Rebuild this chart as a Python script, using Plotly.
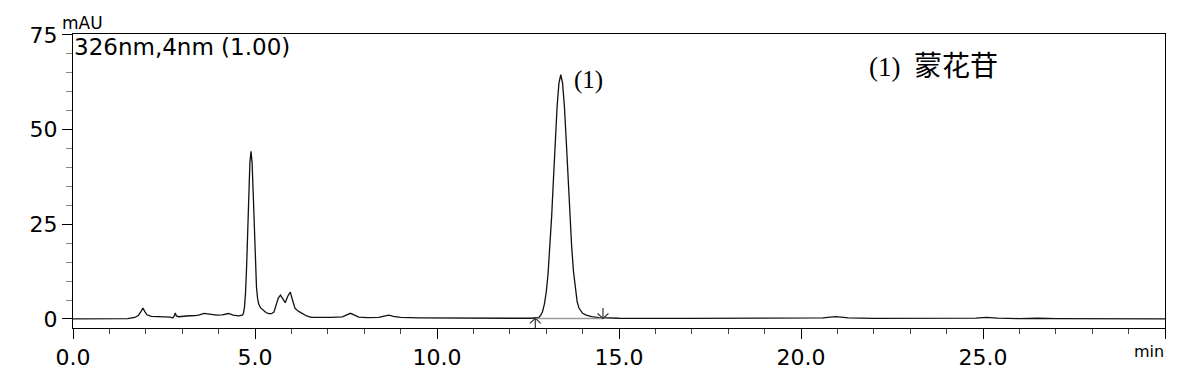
import plotly.graph_objects as go

# ---- data (time in min, signal in mAU) ----
time_min = [
    0.0, 1.0, 1.5, 1.7, 1.8, 1.87, 1.92, 1.97, 2.03, 2.15, 2.35, 2.55, 2.68, 2.74,
    2.78, 2.81, 2.84, 2.9, 3.05, 3.2, 3.35, 3.45, 3.6, 3.75, 3.95, 4.1, 4.27, 4.4,
    4.55, 4.65, 4.68, 4.71, 4.74, 4.77, 4.80, 4.83, 4.86, 4.89, 4.92, 4.95, 4.98,
    5.01, 5.04, 5.07, 5.10, 5.15, 5.22, 5.30, 5.38, 5.45, 5.52, 5.58, 5.64, 5.70,
    5.76, 5.83, 5.90, 5.97, 6.03, 6.10, 6.20, 6.30, 6.42, 6.55, 6.8, 7.1, 7.4,
    7.52, 7.62, 7.72, 7.85, 8.1, 8.4, 8.58, 8.68, 8.8, 9.0, 9.5, 10.0, 11.0, 12.0,
    12.6, 12.75, 12.80, 12.85, 12.90, 12.95, 13.00, 13.05, 13.10, 13.15, 13.20,
    13.25, 13.30, 13.35, 13.40, 13.45, 13.50, 13.55, 13.60, 13.65, 13.70, 13.75,
    13.80, 13.85, 13.90, 13.95, 14.00, 14.10, 14.25, 14.45, 14.7, 15.0, 17.0,
    20.0, 20.6, 20.95, 21.3, 22.0, 24.0, 24.8, 25.1, 25.4, 26.0, 26.5, 27.0, 30.0,
]
signal_mau = [
    0.05, 0.05, 0.1, 0.4, 1.0, 2.0, 2.9, 2.0, 1.1, 0.7, 0.55, 0.6, 0.5, 0.25,
    0.8, 1.6, 0.8, 0.6, 0.8, 0.85, 0.9, 1.0, 1.5, 1.3, 1.0, 1.1, 1.45, 1.0,
    0.8, 1.0, 1.4, 3.0, 7.0, 14.0, 23.5, 33.4, 41.3, 44.3, 41.3, 33.4, 23.5,
    14.5, 8.5, 5.5, 4.0, 3.0, 2.3, 1.7, 1.4, 1.4, 1.8, 3.5, 5.5, 6.3,
    5.2, 4.3, 6.0, 7.1, 5.0, 2.8, 2.0, 1.5, 0.8, 0.45, 0.4, 0.4, 0.55,
    1.1, 1.5, 1.1, 0.5, 0.35, 0.4, 0.8, 1.0, 0.7, 0.4, 0.3, 0.25, 0.2, 0.2,
    0.2, 0.3, 0.45, 1.0, 2.0, 3.9, 7.0, 11.8, 18.5, 27.1, 37.1,
    47.2, 56.2, 62.3, 64.5, 62.3, 56.2, 47.2, 37.1, 27.5, 19.0, 12.5,
    7.6, 4.6, 2.9, 2.0, 1.5, 1.0, 0.6, 0.35, 0.25, 0.2, 0.15,
    0.15, 0.3, 0.6, 0.3, 0.15, 0.1, 0.25, 0.45, 0.25, 0.1, 0.2, 0.1, 0.05,
]

integration_start = 12.70
integration_end = 14.56
peak_label = "(1)"
peak_time = 13.41
peak_height = 64.5
legend_label = "(1)"
legend_name = "蒙花苷"
channel_text = "326nm,4nm (1.00)"

x_tick_vals = [0, 5, 10, 15, 20, 25, 30]
x_tick_text = ["0.0", "5.0", "10.0", "15.0", "20.0", "25.0", ""]
y_tick_vals = [0, 25, 50, 75]

# ---- figure ----
fig = go.Figure()

fig.add_trace(go.Scatter(
    x=time_min, y=signal_mau, mode="lines",
    line=dict(color="#111111", width=1.3), showlegend=False, hoverinfo="skip",
))

# integration baseline
fig.add_trace(go.Scatter(
    x=[integration_start, integration_end], y=[0.15, 0.15], mode="lines",
    line=dict(color="#9a9a9a", width=1.5), showlegend=False, hoverinfo="skip",
))

# integration markers (up arrow at start, down arrow at end)
head_dx = 0.15
head_dy = 1.3
ax, ay = [], []
s = integration_start
ax += [s, s, None, s - head_dx, s, s + head_dx, None]
ay += [0.15, -2.6, None, 0.15 - head_dy, 0.15, 0.15 - head_dy, None]
e = integration_end
ax += [e, e, None, e - head_dx, e, e + head_dx]
ay += [2.9, 0.15, None, 0.15 + head_dy, 0.15, 0.15 + head_dy]
fig.add_trace(go.Scatter(
    x=ax, y=ay, mode="lines", line=dict(color="#333333", width=1.2),
    showlegend=False, hoverinfo="skip",
))

tick_font = dict(family="DejaVu Sans", size=22, color="#000000")

fig.update_layout(
    width=1199, height=375,
    margin=dict(l=65, r=42, t=26, b=55),
    paper_bgcolor="white", plot_bgcolor="white",
    xaxis=dict(
        range=[0, 30], tickvals=x_tick_vals, ticktext=x_tick_text,
        ticks="outside", ticklen=10, tickwidth=1, tickcolor="#000000",
        showline=True, linecolor="#000000", linewidth=1, mirror=True,
        showgrid=False, zeroline=False, tickfont=tick_font,
        minor=dict(tickmode="linear", tick0=0, dtick=1, ticks="outside",
                   ticklen=5, tickcolor="#444444", showgrid=False),
    ),
    yaxis=dict(
        range=[-2.38, 75.26], tickvals=y_tick_vals,
        ticks="outside", ticklen=10, tickwidth=1, tickcolor="#000000",
        showline=True, linecolor="#000000", linewidth=1, mirror=True,
        showgrid=False, zeroline=False, tickfont=tick_font,
        minor=dict(tickmode="linear", tick0=0, dtick=5, ticks="outside",
                   ticklen=6, tickcolor="#888888", showgrid=False),
    ),
)

fig.add_annotation(
    xref="paper", yref="paper", x=-0.011, y=1.0, xanchor="left", yanchor="bottom",
    text="mAU", showarrow=False, borderpad=0,
    font=dict(family="DejaVu Sans", size=17, color="#000000"), yshift=0,
)
fig.add_annotation(
    xref="paper", yref="paper", x=0.0, y=1.0, xanchor="left", yanchor="top",
    text=channel_text, showarrow=False, borderpad=0,
    font=dict(family="DejaVu Sans", size=23, color="#000000"), yshift=1,
)
fig.add_annotation(
    x=peak_time, y=peak_height, xanchor="left", yanchor="middle",
    text=peak_label, showarrow=False, xshift=11, yshift=-5,
    font=dict(family="Liberation Serif", size=25, color="#000000"),
)
fig.add_annotation(
    xref="paper", yref="paper", x=0.727, y=0.891, xanchor="left", yanchor="middle",
    text=legend_label + "  <span style='font-size:28px'>" + legend_name + "</span>",
    showarrow=False,
    font=dict(family="Liberation Serif, Noto Sans CJK SC", size=27, color="#000000"),
)
fig.add_annotation(
    xref="paper", yref="paper", x=1.0, y=-0.0816, xanchor="right", yanchor="middle",
    text="min", showarrow=False, borderpad=0,
    font=dict(family="DejaVu Sans", size=16, color="#000000"),
)

fig.write_html("out.html")
